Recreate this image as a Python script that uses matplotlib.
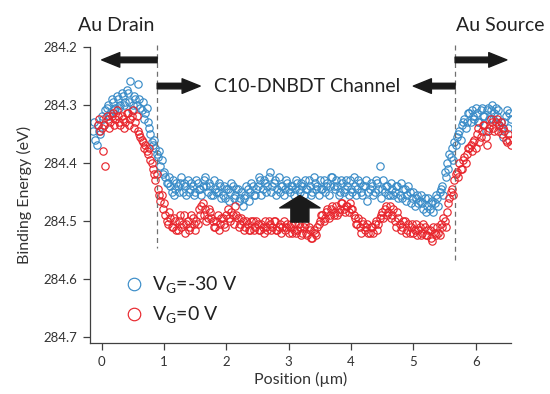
import numpy as np
import matplotlib
matplotlib.use('Agg')
import matplotlib.pyplot as plt

plt.rcParams['font.family'] = ['Lato', 'DejaVu Sans']
plt.rcParams['mathtext.fontset'] = 'custom'
plt.rcParams['mathtext.rm'] = 'Lato'

# scan positions (um), first pass
position = [
    -0.14, -0.10, -0.06, -0.02, 0.02, 0.06, 0.10, 0.14, 0.18, 0.22,
    0.26, 0.30, 0.34, 0.38, 0.42, 0.46, 0.50, 0.54, 0.58, 0.62,
    0.66, 0.70, 0.74, 0.78, 0.82, 0.86, 0.90, 0.94, 0.98, 1.02,
    1.06, 1.10, 1.14, 1.18, 1.22, 1.26, 1.30, 1.34, 1.38, 1.42,
    1.46, 1.50, 1.54, 1.58, 1.62, 1.66, 1.70, 1.74, 1.78, 1.82,
    1.86, 1.90, 1.94, 1.98, 2.02, 2.06, 2.10, 2.14, 2.18, 2.22,
    2.26, 2.30, 2.34, 2.38, 2.42, 2.46, 2.50, 2.54, 2.58, 2.62,
    2.66, 2.70, 2.74, 2.78, 2.82, 2.86, 2.90, 2.94, 2.98, 3.02,
    3.06, 3.10, 3.14, 3.18, 3.22, 3.26, 3.30, 3.34, 3.38, 3.42,
    3.46, 3.50, 3.54, 3.58, 3.62, 3.66, 3.70, 3.74, 3.78, 3.82,
    3.86, 3.90, 3.94, 3.98, 4.02, 4.06, 4.10, 4.14, 4.18, 4.22,
    4.26, 4.30, 4.34, 4.38, 4.42, 4.46, 4.50, 4.54, 4.58, 4.62,
    4.66, 4.70, 4.74, 4.78, 4.82, 4.86, 4.90, 4.94, 4.98, 5.02,
    5.06, 5.10, 5.14, 5.18, 5.22, 5.26, 5.30, 5.34, 5.38, 5.42,
    5.46, 5.50, 5.54, 5.58, 5.62, 5.66, 5.70, 5.74, 5.78, 5.82,
    5.86, 5.90, 5.94, 5.98, 6.02, 6.06, 6.10, 6.14, 6.18, 6.22,
    6.26, 6.30, 6.34, 6.38, 6.42, 6.46, 6.50, 6.54,
]

# scan positions (um), second pass
position_b = [
    -0.12, -0.08, -0.04, 0.00, 0.04, 0.08, 0.12, 0.16, 0.20, 0.24,
    0.28, 0.32, 0.36, 0.40, 0.44, 0.48, 0.52, 0.56, 0.60, 0.64,
    0.68, 0.72, 0.76, 0.80, 0.84, 0.88, 0.92, 0.96, 1.00, 1.04,
    1.08, 1.12, 1.16, 1.20, 1.24, 1.28, 1.32, 1.36, 1.40, 1.44,
    1.48, 1.52, 1.56, 1.60, 1.64, 1.68, 1.72, 1.76, 1.80, 1.84,
    1.88, 1.92, 1.96, 2.00, 2.04, 2.08, 2.12, 2.16, 2.20, 2.24,
    2.28, 2.32, 2.36, 2.40, 2.44, 2.48, 2.52, 2.56, 2.60, 2.64,
    2.68, 2.72, 2.76, 2.80, 2.84, 2.88, 2.92, 2.96, 3.00, 3.04,
    3.08, 3.12, 3.16, 3.20, 3.24, 3.28, 3.32, 3.36, 3.40, 3.44,
    3.48, 3.52, 3.56, 3.60, 3.64, 3.68, 3.72, 3.76, 3.80, 3.84,
    3.88, 3.92, 3.96, 4.00, 4.04, 4.08, 4.12, 4.16, 4.20, 4.24,
    4.28, 4.32, 4.36, 4.40, 4.44, 4.48, 4.52, 4.56, 4.60, 4.64,
    4.68, 4.72, 4.76, 4.80, 4.84, 4.88, 4.92, 4.96, 5.00, 5.04,
    5.08, 5.12, 5.16, 5.20, 5.24, 5.28, 5.32, 5.36, 5.40, 5.44,
    5.48, 5.52, 5.56, 5.60, 5.64, 5.68, 5.72, 5.76, 5.80, 5.84,
    5.88, 5.92, 5.96, 6.00, 6.04, 6.08, 6.12, 6.16, 6.20, 6.24,
    6.28, 6.32, 6.36, 6.40, 6.44, 6.48, 6.52, 6.56,
]

# binding energy (eV), V_G = -30 V
be_m30 = [
    284.345, 284.36, 284.335, 284.35, 284.325, 284.31, 284.30, 284.315, 284.295, 284.305,
    284.29, 284.30, 284.285, 284.295, 284.28, 284.26, 284.30, 284.29, 284.265, 284.305,
    284.295, 284.315, 284.33, 284.35, 284.37, 284.375, 284.39, 284.405, 284.42, 284.425,
    284.435, 284.44, 284.43, 284.445, 284.44, 284.435, 284.45, 284.44, 284.43, 284.445,
    284.44, 284.45, 284.435, 284.445, 284.44, 284.425, 284.45, 284.44, 284.455, 284.445,
    284.45, 284.44, 284.455, 284.46, 284.445, 284.45, 284.44, 284.455, 284.445, 284.46,
    284.475, 284.455, 284.445, 284.45, 284.44, 284.455, 284.44, 284.43, 284.445, 284.435,
    284.44, 284.415, 284.44, 284.43, 284.445, 284.45, 284.44, 284.445, 284.435, 284.45,
    284.44, 284.445, 284.435, 284.45, 284.44, 284.43, 284.445, 284.44, 284.45, 284.435,
    284.44, 284.43, 284.445, 284.45, 284.435, 284.44, 284.425, 284.445, 284.44, 284.45,
    284.435, 284.445, 284.44, 284.43, 284.45, 284.44, 284.445, 284.435, 284.455, 284.44,
    284.465, 284.445, 284.44, 284.45, 284.435, 284.405, 284.445, 284.45, 284.44, 284.455,
    284.445, 284.45, 284.44, 284.455, 284.46, 284.445, 284.455, 284.45, 284.46, 284.475,
    284.455, 284.465, 284.47, 284.46, 284.475, 284.48, 284.465, 284.47, 284.46, 284.45,
    284.44, 284.415, 284.40, 284.385, 284.375, 284.365, 284.355, 284.345, 284.335, 284.325,
    284.33, 284.315, 284.31, 284.325, 284.315, 284.33, 284.305, 284.32, 284.31, 284.325,
    284.30, 284.315, 284.32, 284.335, 284.34, 284.33, 284.31, 284.315,
]
be_m30_b = [
    284.33, 284.37, 284.345, 284.32, 284.335, 284.305, 284.32, 284.29, 284.31, 284.285,
    284.305, 284.28, 284.30, 284.275, 284.295, 284.31, 284.285, 284.30, 284.29, 284.31,
    284.325, 284.305, 284.34, 284.365, 284.36, 284.385, 284.38, 284.395, 284.415, 284.435,
    284.425, 284.45, 284.455, 284.435, 284.45, 284.425, 284.435, 284.455, 284.45, 284.435,
    284.455, 284.43, 284.445, 284.455, 284.43, 284.44, 284.435, 284.455, 284.43, 284.45,
    284.435, 284.46, 284.44, 284.445, 284.465, 284.435, 284.46, 284.445, 284.465, 284.45,
    284.46, 284.44, 284.465, 284.435, 284.455, 284.445, 284.425, 284.455, 284.43, 284.45,
    284.425, 284.45, 284.435, 284.455, 284.425, 284.44, 284.455, 284.43, 284.445, 284.44,
    284.455, 284.43, 284.445, 284.435, 284.455, 284.445, 284.43, 284.455, 284.425, 284.445,
    284.455, 284.445, 284.43, 284.44, 284.455, 284.425, 284.44, 284.43, 284.455, 284.43,
    284.45, 284.43, 284.455, 284.445, 284.425, 284.455, 284.43, 284.45, 284.44, 284.43,
    284.45, 284.435, 284.455, 284.43, 284.445, 284.46, 284.43, 284.44, 284.455, 284.435,
    284.455, 284.44, 284.46, 284.435, 284.445, 284.465, 284.44, 284.47, 284.45, 284.46,
    284.47, 284.455, 284.48, 284.485, 284.46, 284.47, 284.485, 284.455, 284.475, 284.445,
    284.455, 284.425, 284.41, 284.39, 284.395, 284.37, 284.35, 284.36, 284.33, 284.34,
    284.315, 284.33, 284.32, 284.305, 284.33, 284.31, 284.32, 284.345, 284.305, 284.31,
    284.325, 284.305, 284.31, 284.33, 284.355, 284.32, 284.34, 284.325,
]

# binding energy (eV), V_G = 0 V (both passes start at index 2)
be_0 = [
    284.335, 284.345, 284.38, 284.405, 284.325, 284.33, 284.315, 284.325, 284.32, 284.335,
    284.325, 284.33, 284.315, 284.325, 284.31, 284.33, 284.345, 284.355, 284.365, 284.37,
    284.385, 284.395, 284.41, 284.43, 284.445, 284.465, 284.48, 284.49, 284.505, 284.495,
    284.51, 284.50, 284.515, 284.49, 284.505, 284.52, 284.50, 284.51, 284.495, 284.515,
    284.505, 284.49, 284.47, 284.48, 284.495, 284.485, 284.50, 284.51, 284.49, 284.505,
    284.495, 284.51, 284.48, 284.50, 284.49, 284.475, 284.495, 284.505, 284.50, 284.51,
    284.505, 284.515, 284.50, 284.51, 284.505, 284.515, 284.51, 284.50, 284.515, 284.505,
    284.51, 284.50, 284.515, 284.505, 284.51, 284.515, 284.505, 284.51, 284.52, 284.505,
    284.515, 284.51, 284.52, 284.505, 284.525, 284.515, 284.53, 284.52, 284.51, 284.50,
    284.49, 284.495, 284.48, 284.49, 284.475, 284.485, 284.49, 284.48, 284.47, 284.485,
    284.475, 284.47, 284.48, 284.495, 284.505, 284.51, 284.50, 284.515, 284.505, 284.52,
    284.51, 284.505, 284.515, 284.495, 284.485, 284.48, 284.49, 284.475, 284.49, 284.50,
    284.485, 284.505, 284.51, 284.50, 284.515, 284.52, 284.505, 284.515, 284.525, 284.51,
    284.52, 284.51, 284.525, 284.515, 284.535, 284.52, 284.51, 284.525, 284.51, 284.50,
    284.485, 284.46, 284.445, 284.43, 284.415, 284.40, 284.41, 284.39, 284.385, 284.375,
    284.38, 284.36, 284.35, 284.365, 284.345, 284.335, 284.37, 284.34, 284.33, 284.345,
    284.325, 284.335, 284.35, 284.345, 284.365, 284.36,
]
be_0_b = [
    284.325, 284.34, 284.335, 284.32, 284.34, 284.32, 284.335, 284.31, 284.33, 284.32,
    284.34, 284.315, 284.335, 284.32, 284.34, 284.32, 284.35, 284.36, 284.375, 284.38,
    284.375, 284.40, 284.42, 284.42, 284.455, 284.455, 284.47, 284.50, 284.485, 284.51,
    284.495, 284.515, 284.50, 284.51, 284.49, 284.505, 284.515, 284.49, 284.505, 284.50,
    284.48, 284.475, 284.49, 284.50, 284.48, 284.495, 284.51, 284.50, 284.515, 284.495,
    284.505, 284.49, 284.495, 284.485, 284.505, 284.49, 284.51, 284.495, 284.515, 284.50,
    284.515, 284.50, 284.515, 284.50, 284.515, 284.505, 284.52, 284.51, 284.50, 284.515,
    284.50, 284.515, 284.51, 284.52, 284.50, 284.51, 284.52, 284.505, 284.515, 284.52,
    284.505, 284.525, 284.51, 284.52, 284.51, 284.53, 284.515, 284.525, 284.505, 284.49,
    284.50, 284.485, 284.495, 284.48, 284.49, 284.475, 284.485, 284.47, 284.48, 284.475,
    284.485, 284.48, 284.49, 284.505, 284.495, 284.52, 284.505, 284.51, 284.52, 284.51,
    284.52, 284.50, 284.505, 284.49, 284.495, 284.475, 284.485, 284.495, 284.48, 284.51,
    284.495, 284.515, 284.50, 284.52, 284.505, 284.51, 284.52, 284.505, 284.515, 284.525,
    284.505, 284.525, 284.515, 284.53, 284.51, 284.525, 284.52, 284.505, 284.495, 284.51,
    284.47, 284.45, 284.455, 284.42, 284.425, 284.41, 284.395, 284.40, 284.375, 284.37,
    284.365, 284.375, 284.34, 284.355, 284.335, 284.355, 284.345, 284.325, 284.34, 284.33,
    284.345, 284.33, 284.34, 284.36, 284.35, 284.37,
]

drain_edge = 0.89
source_edge = 5.67

blue = '#3a8cc8'
red = '#e8262d'
axis_col = '#404040'

fig = plt.figure(figsize=(5.5, 3.94), dpi=100)
ax = fig.add_axes([0.1636, 0.1294, 0.7655, 0.7525])

mk = dict(ls='none', marker='o', mfc='none', ms=5.3, mew=0.85)
ax.plot(position + position_b, be_m30 + be_m30_b, mec=blue,
        label='V$_\\mathregular{G}$=-30 V', **mk)
ax.plot(position[2:] + position_b[2:], be_0 + be_0_b, mec=red,
        label='V$_\\mathregular{G}$=0 V', **mk)

ax.set_xlim(-0.188, 6.567)
ax.set_ylim(284.71, 284.2)
ax.set_xticks([0, 1, 2, 3, 4, 5, 6])
ax.set_yticks([284.2, 284.3, 284.4, 284.5, 284.6, 284.7])
ax.set_yticklabels(['284.2', '284.3', '284.4', '284.5', '284.6', '284.7'])

for s in ['top', 'right']:
    ax.spines[s].set_visible(False)
for s in ['left', 'bottom']:
    ax.spines[s].set_color(axis_col)
    ax.spines[s].set_linewidth(0.9)
ax.tick_params(direction='out', length=5, width=0.9, color=axis_col,
               labelcolor='#333333', labelsize=9.5, pad=4)

ax.set_xlabel('Position (\u00b5m)', fontsize=11.5, color='#333333', labelpad=3)
ax.set_ylabel('Binding Energy (eV)', fontsize=11.5, color='#333333', labelpad=8)

# electrode edges
for xe, ybot in [(drain_edge, 284.547), (source_edge, 284.573)]:
    ax.plot([xe, xe], [284.197, ybot], color='#707070', lw=0.9, ls=(0, (4, 3)),
            clip_on=False)

arrow_kw = dict(arrowstyle='simple,head_length=1.3,head_width=1.05,tail_width=0.4',
                color='#1a1a1a', shrinkA=0, shrinkB=0, mutation_scale=10)
ax.annotate('', xy=(0.0, 284.223), xytext=(drain_edge, 284.223),
            arrowprops=arrow_kw, annotation_clip=False)
ax.annotate('', xy=(1.58, 284.268), xytext=(drain_edge, 284.268),
            arrowprops=arrow_kw, annotation_clip=False)
ax.annotate('', xy=(5.0, 284.268), xytext=(source_edge, 284.268),
            arrowprops=arrow_kw, annotation_clip=False)
ax.annotate('', xy=(6.5, 284.223), xytext=(source_edge, 284.223),
            arrowprops=arrow_kw, annotation_clip=False)

# big up arrow
ax.annotate('', xy=(3.18, 284.456), xytext=(3.18, 284.502),
            arrowprops=dict(arrowstyle='simple,head_length=0.9,head_width=2.9,tail_width=1.3',
                            color='#1a1a1a', shrinkA=0, shrinkB=0, mutation_scale=10))

fig.text(0.2118, 0.9348, 'Au Drain', ha='center', va='center', fontsize=14, color='#222222')
fig.text(0.909, 0.9348, 'Au Source', ha='center', va='center', fontsize=14, color='#222222')
ax.text(3.3, 284.268, 'C10-DNBDT Channel', ha='center', va='center', fontsize=14,
        color='#222222')

leg = ax.legend(loc='upper left', bbox_to_anchor=(0.045, 0.29), frameon=False,
                fontsize=14, markerscale=1.7, handlelength=0.8, handletextpad=0.5,
                labelspacing=0.45)
for t in leg.get_texts():
    t.set_color('#222222')

fig.savefig('out.png', dpi=100)
